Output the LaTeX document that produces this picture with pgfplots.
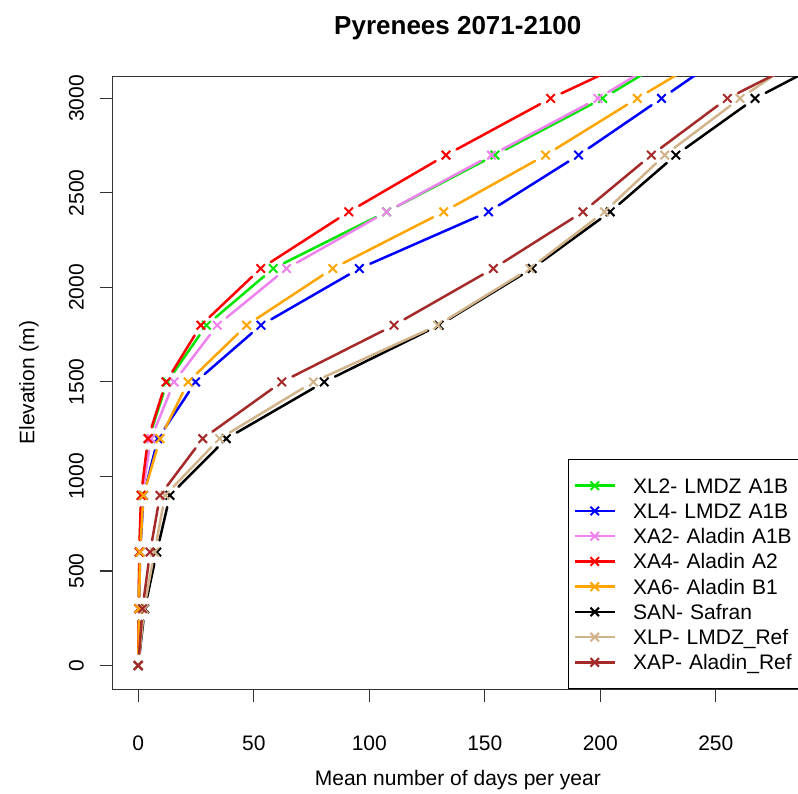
\documentclass[border=0pt]{standalone}
\usepackage{fontspec}
\setmainfont{Liberation Sans}
\usepackage{pgfplots}
\usepackage{pgfplotstable}
\pgfplotsset{compat=1.18}

\definecolor{cgreen}{RGB}{0,230,0}
\definecolor{cblue}{RGB}{0,0,255}
\definecolor{cviolet}{RGB}{238,130,238}
\definecolor{cred}{RGB}{255,0,0}
\definecolor{corange}{RGB}{255,165,0}
\definecolor{cblack}{RGB}{0,0,0}
\definecolor{ctan}{RGB}{210,180,140}
\definecolor{cbrown}{RGB}{165,42,42}

% y = elevation, x = days, xn = days at the next elevation (+300 m)
\pgfplotstableread{
y x xn
0 0 0.2
300 0.2 0.5
600 0.5 1.3
900 1.3 4.5
1200 4.5 12.5
1500 12.5 29.5
1800 29.5 58.4
2100 58.4 107.5
2400 107.5 154.4
2700 154.4 201
3000 201 241.8
}\tXLtwo
\pgfplotstableread{
y x xn
0 0 0.3
300 0.3 0.8
600 0.8 2.3
900 2.3 8.5
1200 8.5 24.8
1500 24.8 53.1
1800 53.1 95.7
2100 95.7 151.6
2400 151.6 190.6
2700 190.6 226.5
3000 226.5 262
}\tXLfour
\pgfplotstableread{
y x xn
0 0 0.2
300 0.2 0.6
600 0.6 1.6
900 1.6 5.5
1200 5.5 15.5
1500 15.5 34.2
1800 34.2 64.2
2100 64.2 107.5
2400 107.5 152.9
2700 152.9 199
3000 199 239.3
}\tXAtwo
\pgfplotstableread{
y x xn
0 0 0.2
300 0.2 0.4
600 0.4 1.2
900 1.2 4.2
1200 4.2 12.0
1500 12.0 27.1
1800 27.1 53.0
2100 53.0 91.1
2400 91.1 133.2
2700 133.2 178.5
3000 178.5 231
}\tXAfour
\pgfplotstableread{
y x xn
0 0 0.3
300 0.3 0.8
600 0.8 2.2
900 2.2 9.4
1200 9.4 21.6
1500 21.6 46.9
1800 46.9 84.2
2100 84.2 132.2
2400 132.2 176.3
2700 176.3 216
3000 216 257
}\tXAsix
\pgfplotstableread{
y x xn
0 0 2.8
300 2.8 8.0
600 8.0 13.7
900 13.7 38.1
1200 38.1 80.5
1500 80.5 130.2
1800 130.2 170.5
2100 170.5 204.3
2400 204.3 232.7
2700 232.7 267
3000 267 314
}\tSAN
\pgfplotstableread{
y x xn
0 0 2.5
300 2.5 7.0
600 7.0 11.6
900 11.6 35.2
1200 35.2 75.8
1500 75.8 129.6
1800 129.6 169.5
2100 169.5 201.8
2400 201.8 227.9
2700 227.9 260.5
3000 260.5 296.5
}\tXLP
\pgfplotstableread{
y x xn
0 0 1.8
300 1.8 5.1
600 5.1 9.4
900 9.4 27.9
1200 27.9 62.1
1500 62.1 110.7
1800 110.7 153.7
2100 153.7 192.5
2400 192.5 222.1
2700 222.1 255
3000 255 303.7
}\tXAP

\pgfplotsset{
  seg/.style={quiver={u=\thisrow{xn}-\thisrow{x}, v=300,
      every arrow/.append style={-, line width=2.5bp, line cap=round, shorten <=12bp, shorten >=12bp}},
    line width=2.5bp, no markers, forget plot},
  pts/.style={only marks, mark=x, mark size=6bp, mark options={line width=2bp}, forget plot},
  limg/.style={line width=2.5bp, mark=x, mark size=6bp, mark options={line width=2bp}},
}
\newcommand{\series}[2]{%
  \addplot[#1, seg] table[x=x,y=y]{#2};
  \addplot[#1, pts] table[x=x,y=y]{#2};
}

\begin{document}
\begin{tikzpicture}
\begin{axis}[
  name=ax,
  scale only axis,
  width=690.3bp, height=612.8bp,
  xmin=-11.08, xmax=287.75, ymin=-125, ymax=3117,
  xtick={0,50,...,250}, ytick={0,500,...,3000},
  /pgf/number format/1000 sep={},
  /pgf/number format/assume math mode=true,
  tick align=outside, major tick length=13bp,
  xtick pos=bottom, ytick pos=left,
  axis line style={line width=1.1bp, black!80},
  tick style={line width=1.1bp, black!80},
  ticklabel style={font=\fontsize{21bp}{25bp}\selectfont},
  xticklabel style={anchor=base, yshift=-48bp},
  yticklabel style={xshift=-16bp, rotate=90, anchor=base},
  xlabel={Mean number of days per year},
  xlabel style={at={(axis description cs:0.5,-0.158)}, anchor=base, font=\fontsize{21bp}{25bp}\selectfont},
  ylabel={Elevation (m)},
  ylabel style={at={(axis description cs:-0.1135,0.5)}, anchor=base, font=\fontsize{21bp}{25bp}\selectfont},
  title={Pyrenees 2071-2100},
  title style={at={(axis description cs:0.5,1.0585)}, anchor=base, font=\bfseries\fontsize{26bp}{31bp}\selectfont},
  legend cell align=left,
  legend image code/.code={\draw[mark repeat=2, mark phase=2, #1] plot coordinates {(0bp,0bp) (20bp,0bp) (40bp,0bp)};},
  legend style={at={(axis description cs:0.66,0)}, anchor=south west, draw=black, fill=white, line width=1bp,
    inner xsep=4.7bp, inner ysep=18.7bp, row sep=10.2bp, column sep=17bp,
    font=\fontsize{21bp}{25bp}\selectfont,
    nodes={inner sep=0pt, text height=15.04bp, text depth=0pt, text width=175bp, align=left}},
]
\series{cgreen}{\tXLtwo}
\series{cblue}{\tXLfour}
\series{cviolet}{\tXAtwo}
\series{cred}{\tXAfour}
\series{corange}{\tXAsix}
\series{cblack}{\tSAN}
\series{ctan}{\tXLP}
\series{cbrown}{\tXAP}

\addlegendimage{cgreen, limg}\addlegendentry{XL2- LMDZ A1B}
\addlegendimage{cblue, limg}\addlegendentry{XL4- LMDZ A1B}
\addlegendimage{cviolet, limg}\addlegendentry{XA2- Aladin A1B}
\addlegendimage{cred, limg}\addlegendentry{XA4- Aladin A2}
\addlegendimage{corange, limg}\addlegendentry{XA6- Aladin B1}
\addlegendimage{cblack, limg}\addlegendentry{SAN- Safran}
\addlegendimage{ctan, limg}\addlegendentry{XLP- LMDZ\_Ref}
\addlegendimage{cbrown, limg}\addlegendentry{XAP- Aladin\_Ref}
\end{axis}
\pgfresetboundingbox
\path ([xshift=-112.7bp,yshift=-104.7bp]ax.south west) rectangle ([xshift=-5bp,yshift=76.3bp]ax.north east);
\end{tikzpicture}
\end{document}
